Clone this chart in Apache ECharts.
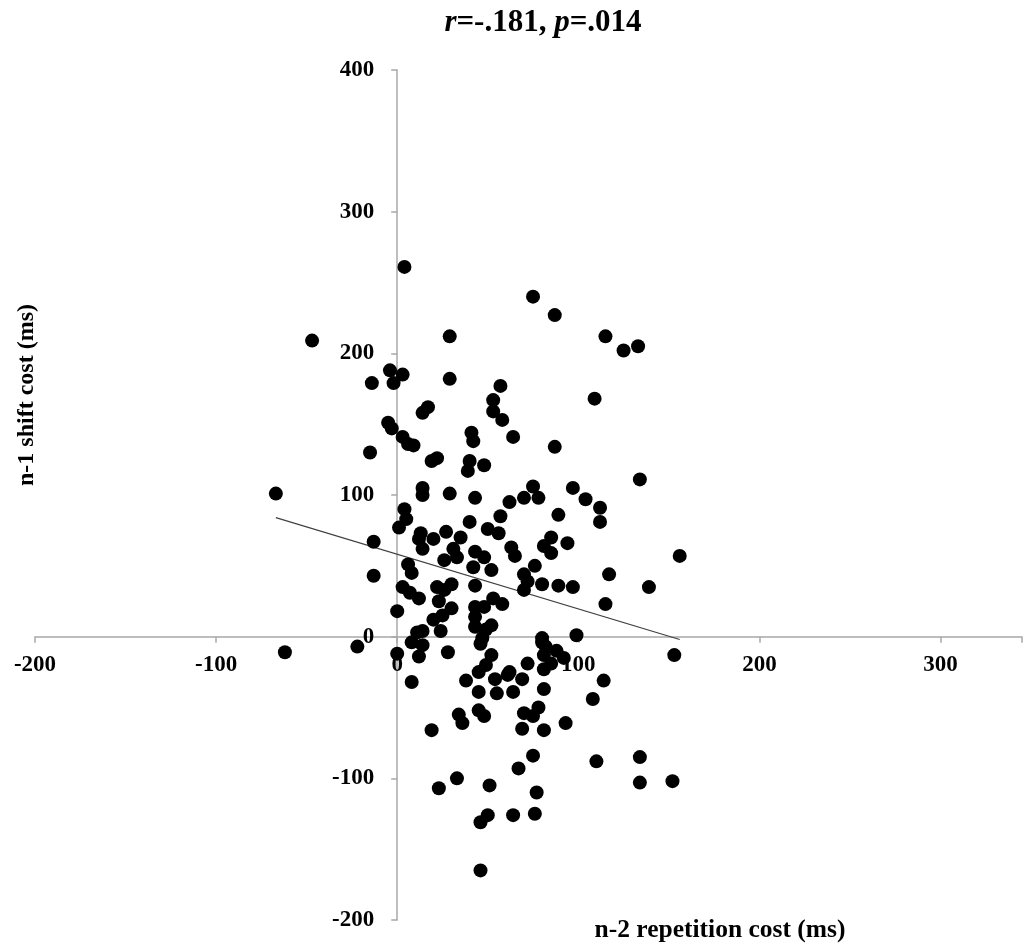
<!DOCTYPE html>
<html>
<head>
<meta charset="utf-8">
<script src="https://cdn.jsdelivr.net/npm/echarts@6/dist/echarts.min.js"></script>
<style>html,body{margin:0;padding:0;background:#fff;}#c{width:1023px;height:951px;}</style>
</head>
<body>
<div id="c"></div>
<script>
// n-2 repetition cost (ms)
const repCost = [4,75,87,-47,29,115,125,133,-4,3,-2,-14,29,17,14,-5,-3,-15,41,42,3,6,9,57,53,53,58,109,64,87,
  -67,14,14,29,4,5,1,-13,-13,19,22,40,39,13,12,14,20,27,35,40,43,31,33,26,43,42,6,8,3,7,12,22,26,30,43,23,0,30,25,20,24,14,11,43,43,43,
  48,134,75,70,78,97,62,104,112,112,89,57,50,56,85,81,85,94,63,65,48,156,52,76,117,70,72,70,80,89,97,139,115,58,48,53,52,49,99,80,47,
  -62,-22,0,8,14,12,28,8,38,46,45,45,45,34,36,19,33,23,46,46,
  153,80,82,88,92,81,81,85,72,52,49,114,108,54,62,61,69,55,64,81,48,70,75,78,69,81,93,75,67,110,134,134,152,51,77,50,64,76];
// n-1 shift cost (ms)
const shiftCost = [261,240,227,209,212,212,202,205,188,185,179,179,182,162,158,151,147,130,144,138,141,136,135,177,167,159,153,168,141,134,
  101,105,100,101,90,83,77,67,43,124,126,124,117,73,69,62,69,74,70,81,98,62,56,54,60,49,51,45,35,31,27,35,33,37,36,25,18,20,15,12,4,4,3,21,14,7,
  121,111,106,98,98,105,95,97,91,81,86,85,76,73,70,64,59,66,63,57,56,57,47,50,44,44,39,33,37,36,35,35,23,23,21,27,8,5,1,-1,-1,
  -11,-7,-12,-4,-6,-14,-11,-32,-31,-5,-25,-39,-52,-55,-61,-66,-100,-107,-131,-165,
  -13,-4,-7,-10,-15,-13,-23,-19,-19,-13,-20,-31,-44,-30,-25,-27,-30,-40,-39,-37,-56,-54,-56,-50,-65,-66,-61,-84,-93,-88,-85,-103,-102,-105,-110,-126,-126,-125];
// regression line endpoints
const fitX = [-67, 156];
const fitY = [84, -2];
const xTicks = [-200, -100, 0, 100, 200, 300];
const yTicks = [-200, -100, 0, 100, 200, 300, 400];

const points = repCost.map((x, i) => [x, shiftCost[i]]);
const fitLine = fitX.map((x, i) => [x, fitY[i]]);
const FONT = 'Liberation Serif';

const W = 1023, H = 951;
const G = { left: 35, right: 1, top: 70, bottom: 31 };
const xMin = -200, xMax = 345, yMin = -200, yMax = 400;
const gw = W - G.left - G.right, gh = H - G.top - G.bottom;
// axes cross at zero: shift each axis from the grid edge to the zero line
const xAxisOffset = -(0 - yMin) / (yMax - yMin) * gh;
const yAxisOffset = -(0 - xMin) / (xMax - xMin) * gw;

const chart = echarts.init(document.getElementById('c'));
chart.setOption({
  animation: false,
  backgroundColor: '#fff',
  grid: Object.assign({ containLabel: false, outerBoundsMode: 'none' }, G),
  xAxis: {
    type: 'value', min: xMin, max: xMax, interval: 100, position: 'bottom', offset: xAxisOffset,
    axisLine: { onZero: false, lineStyle: { color: '#a8a8a8', width: 1.5 } },
    axisTick: { show: true, length: 6, lineStyle: { color: '#a8a8a8', width: 1.5 } },
    splitLine: { show: false },
    axisLabel: {
      margin: 17, color: '#000', fontFamily: FONT, fontWeight: 'bold', fontSize: 23,
      formatter: v => xTicks.indexOf(v) >= 0 ? String(v) : ''
    }
  },
  yAxis: {
    type: 'value', min: yMin, max: yMax, interval: 100, position: 'left', offset: yAxisOffset,
    axisLine: { onZero: false, lineStyle: { color: '#a8a8a8', width: 1.5 } },
    axisTick: { show: true, length: 6, lineStyle: { color: '#a8a8a8', width: 1.5 } },
    splitLine: { show: false },
    axisLabel: {
      margin: 23, color: '#000', fontFamily: FONT, fontWeight: 'bold', fontSize: 23,
      formatter: v => yTicks.indexOf(v) >= 0 ? String(v) : ''
    }
  },
  series: [
    {
      type: 'scatter', data: points, symbol: 'circle', symbolSize: 14,
      itemStyle: { color: '#000', opacity: 1 }, z: 3
    },
    {
      type: 'line', data: fitLine, symbol: 'none', silent: true,
      lineStyle: { color: '#404040', width: 1.2 }, z: 2
    }
  ],
  graphic: [
    {
      type: 'text', x: 543, y: 23,
      style: {
        text: '{i|r}{b|=-.181, }{i|p}{b|=.014}',
        align: 'center', verticalAlign: 'middle',
        rich: {
          i: { fontFamily: FONT, fontWeight: 'bold', fontStyle: 'italic', fontSize: 31, fill: '#000' },
          b: { fontFamily: FONT, fontWeight: 'bold', fontSize: 31, fill: '#000' }
        }
      }
    },
    {
      type: 'text', x: 720, y: 930,
      style: {
        text: 'n-2 repetition cost (ms)', align: 'center', verticalAlign: 'middle',
        fontFamily: FONT, fontWeight: 'bold', fontSize: 25.5, fill: '#000'
      }
    },
    {
      type: 'text', x: 27, y: 395, rotation: Math.PI / 2,
      style: {
        text: 'n-1 shift cost (ms)', align: 'center', verticalAlign: 'middle',
        fontFamily: FONT, fontWeight: 'bold', fontSize: 24, fill: '#000'
      }
    }
  ]
});
</script>
</body>
</html>
